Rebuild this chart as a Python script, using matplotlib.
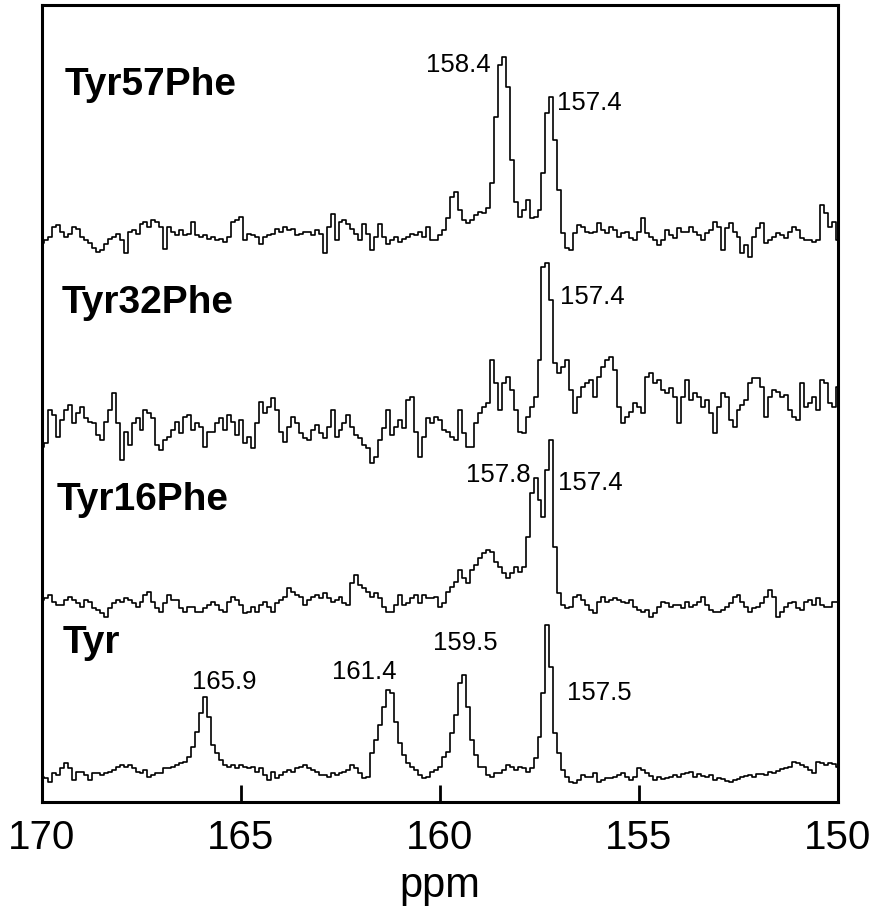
import numpy as np
import matplotlib
matplotlib.use("Agg")
import matplotlib.pyplot as plt

plt.rcParams['font.family'] = ['Liberation Sans', 'DejaVu Sans']

# chemical shift axis (ppm), 0.1 ppm grid from 170 to 150
ppm_start, ppm_stop, ppm_step = 170.0, 150.0, 0.1

trace_names = ["Tyr57Phe", "Tyr32Phe", "Tyr16Phe", "Tyr"]

# intensities (arbitrary units, baseline ~0)
tyr57phe = [
    -6, -3, 0, 10, 12, 5, 0, 3, 10, 8, 0, -3, -6, -11, -15, -13, -7, -2, 0, 3,
    -3, -16, 5, 7, 3, 13, 15, 10, 17, 15, 10, -12, 10, 5, 2, 7, 2, 3, 15, 2,
    0, 2, -2, 0, -3, -2, -5, 0, 15, 17, 20, -3, 3, 2, 0, -7, 0, 2, 3, 8,
    5, 10, 7, 8, 2, 3, 5, 5, 2, 7, 3, -16, 10, 23, -3, 15, 17, 13, 8, 3,
    -3, 13, 3, -13, 0, 13, 0, -7, -3, 0, -5, -2, 0, 3, 2, 5, 0, 10, -3, -3,
    2, 7, 19, 40, 45, 27, 17, 14, 17, 22, 25, 24, 29, 54, 120, 172, 180, 150, 77, 35,
    20, 27, 37, 19, 20, 27, 64, 124, 140, 97, 47, 4, -11, -13, 4, 12, 10, 5, 4, 5,
    14, 7, 4, 10, 7, 0, 4, 5, -1, -3, 5, 19, 4, 0, -3, -8, -3, 7, 2, -1,
    9, 5, 5, 10, 5, 2, -3, 4, 7, 15, 10, -13, 9, 14, 5, 0, -16, -8, -20, 0,
    9, 14, -6, -3, 0, 4, 2, -1, 5, 10, 7, -1, -3, -3, -5, -3, 32, 24, 10, 15,
    -3,
]

tyr32phe = [
    -17, -13, 20, 15, -7, 10, 20, 25, 7, 17, 23, 12, 8, 7, -5, -10, 8, 20, 37, 7,
    -30, -2, -15, 7, 12, 0, 20, 17, 12, -15, -20, -10, -7, 0, 8, -3, 13, 15, 0, 7,
    3, -17, -2, -2, 7, 12, 0, 15, 8, -5, 10, -13, -7, -18, 7, 28, 17, 23, 32, 20,
    -2, -12, 3, 13, 7, -3, -8, -10, 0, 5, -3, -8, 3, 20, -7, 0, 7, 15, 3, -5,
    -8, -15, -18, -33, -27, -10, 2, 20, -5, 3, 10, 2, 30, 33, -2, -27, -7, 12, 7, 13,
    10, 0, -2, -7, -10, 20, -3, -17, -17, 7, 17, 23, 27, 70, 47, 20, 47, 53, 40, 20,
    -2, -3, 13, 23, 33, 70, 163, 167, 130, 67, 57, 63, 70, 40, 17, 33, 43, 47, 50, 33,
    53, 63, 70, 73, 60, 23, 7, 13, 18, 27, 23, 17, 53, 57, 47, 50, 40, 37, 42, 33,
    7, 33, 50, 30, 37, 33, 23, 30, 17, -3, 23, 37, 33, 10, 3, 20, 25, 30, 47, 52,
    52, 43, 13, 33, 40, 38, 33, 35, 20, 13, 10, 47, 23, 27, 33, 20, 50, 47, 27, 23,
    43,
]

tyr16phe = [
    3, 5, 8, 1, -2, -2, 3, 6, 3, 0, -4, 3, 1, -5, -7, -10, -14, -5, 0, 3,
    1, 5, 3, 0, -4, 1, 8, 11, 1, -5, -9, 0, 8, 3, 3, -5, -9, -4, -4, -9,
    -9, -5, -2, 1, -2, -7, -9, 1, 6, 3, -2, -10, -9, -4, -9, -2, 1, -4, -9, 0,
    3, 6, 15, 11, 8, 6, -2, 3, 6, 8, 5, 10, 5, 1, 3, 6, 0, -2, 20, 28,
    18, 15, 11, 6, 10, 5, -4, -9, -9, -2, 8, -2, 0, 5, 8, 0, 8, 5, 5, 6,
    -4, 0, 11, 16, 21, 33, 25, 20, 33, 38, 45, 50, 53, 51, 41, 36, 30, 25, 30, 36,
    31, 36, 66, 110, 125, 103, 86, 133, 163, 56, 10, -2, -5, -4, 6, 8, 3, -2, -7, -10,
    1, 6, 1, 3, 5, 3, 1, 0, 3, -4, -7, -9, -7, -14, -10, -4, 1, 0, -4, -2,
    -2, -5, 1, -4, -2, 1, 6, -2, -7, -9, -9, -7, -4, 0, 6, 8, 1, -4, -9, -5,
    -4, 0, 6, 13, 6, -14, -9, -4, 0, 1, -5, -7, 1, 3, -2, 5, -2, -4, -4, 1,
    1,
]

tyr = [
    -4, -5, -9, 0, -2, 5, 10, 5, -7, 1, 1, -2, -7, 0, 0, -2, 0, 1, 3, 6,
    8, 6, 8, 5, 1, 0, 3, -4, -2, 0, 0, 5, 5, 6, 8, 10, 11, 16, 26, 41,
    60, 76, 56, 28, 20, 13, 8, 6, 8, 5, 8, 6, 5, 6, 1, 5, -2, -7, 1, -5,
    -2, 1, 3, 1, 5, 6, 8, 5, 3, 1, -2, -2, -4, 0, -2, 0, 1, 3, 8, 5,
    0, -5, -4, 20, 33, 48, 66, 83, 80, 51, 30, 18, 10, 6, 3, -2, -5, -4, 1, 3,
    6, 16, 21, 40, 58, 90, 98, 66, 33, 18, 6, 6, -2, -4, 0, 0, 3, 8, 6, 3,
    6, 5, 1, 5, 15, 36, 80, 148, 106, 40, 20, 3, -4, -9, -10, -7, -2, -4, -4, 0,
    -9, -7, -5, -5, -4, -2, 0, -4, -7, -4, 5, 3, 0, -3, -7, -4, -6, -5, -4, -2,
    -4, -1, 0, 1, -4, -1, -3, -4, -2, -7, -5, -6, -8, -9, -7, -6, -4, -3, -2, -4,
    -1, -1, -2, 1, 0, 2, 4, 5, 6, 11, 10, 8, 6, 3, 0, 11, 10, 8, 10, 9,
    6,
]

# peak annotations: (label text, x ppm anchor, y, horizontal alignment)
peak_labels = [
    ("158.4", 158.72, 737, 'right'), ("157.4", 157.06, 699, 'left'),
    ("157.4", 156.98, 505, 'left'),
    ("157.8", 157.73, 327, 'right'), ("157.4", 157.04, 319, 'left'),
    ("165.9", 166.23, 120, 'left'), ("161.4", 162.71, 130, 'left'),
    ("159.5", 160.18, 159, 'left'), ("157.5", 156.81, 109, 'left'),
]

x_ticks = [170, 165, 160, 155, 150]

# ---- layout ----
W, H = 881, 913
fig = plt.figure(figsize=(W / 100, H / 100), dpi=100)
left, right, top, bottom = 42, 838, 5, 802
ax = fig.add_axes([left / W, (H - bottom) / H, (right - left) / W, (bottom - top) / H])

offsets = [565, 372, 199, 29]
name_pos = [(169.42, 717), (169.50, 499), (169.62, 302), (169.47, 159)]

n = int(round((ppm_start - ppm_stop) / ppm_step)) + 1
ppm = ppm_start - ppm_step * np.arange(n)

for data, off, name, (nx, ny) in zip([tyr57phe, tyr32phe, tyr16phe, tyr], offsets,
                                     trace_names, name_pos):
    ax.plot(ppm, np.asarray(data, float) + off, color='black', lw=1.2,
            drawstyle='steps-mid')
    ax.text(nx, ny, name, fontsize=28, fontweight='bold', ha='left', va='center')

for text, px, py, ha in peak_labels:
    ax.text(px, py, text, fontsize=18.5, ha=ha, va='center')

ax.set_xlim(170, 150)
ax.set_ylim(0, bottom - top)
ax.set_yticks([])
ax.set_xticks(x_ticks)
ax.set_xticklabels([str(t) for t in x_ticks])
ax.tick_params(axis='x', direction='in', length=12, width=2, labelsize=29, pad=12)
for s in ax.spines.values():
    s.set_linewidth(2.2)
ax.set_xlabel("ppm", fontsize=30, labelpad=7)

fig.savefig("out.png", dpi=100)
